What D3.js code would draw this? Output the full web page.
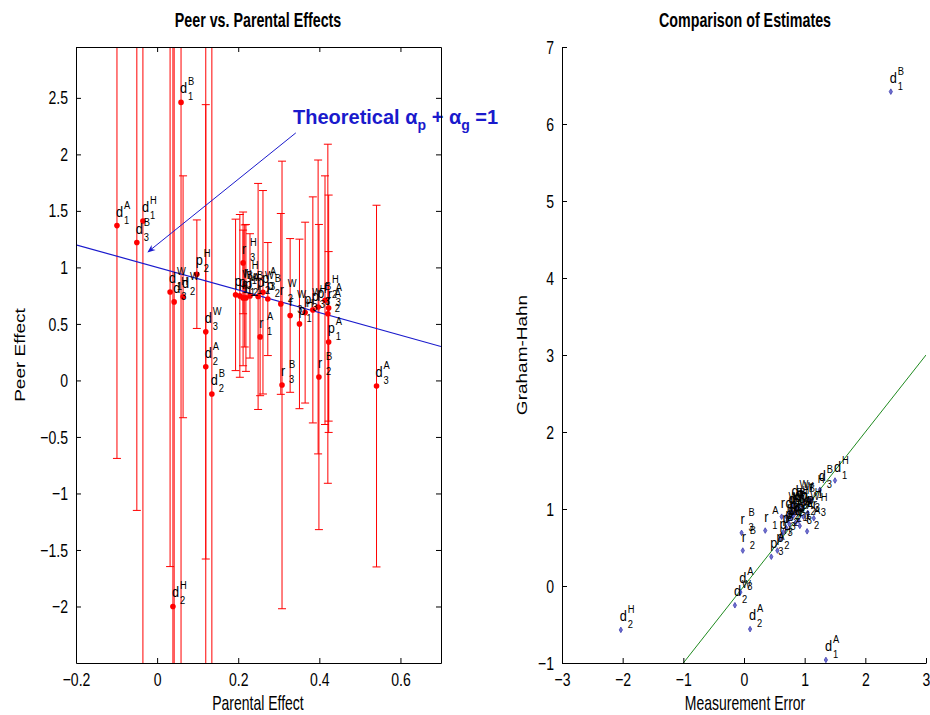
<!DOCTYPE html>
<html>
<head>
<meta charset="utf-8">
<script src="https://cdn.jsdelivr.net/npm/d3@7"></script>
<style>
  body { margin: 0; background: #fff; }
  svg { display: block; font-family: "Liberation Sans", Arial, Helvetica, sans-serif; }
</style>
</head>
<body>
<div id="chart"></div>
<script>
// estimate labels: letter, superscript, subscript
const estLetter = ['d','d','d','d','d','d','d','d','d','d','d','d',
                   'p','p','p','p','p','p','p','p','p','p','p','p',
                   'r','r','r','r','r','r','r','r','r','r','r','r'];
const estSup = ['A','A','A','B','B','B','H','H','H','W','W','W',
                'A','A','A','B','B','B','H','H','H','W','W','W',
                'A','A','A','B','B','B','H','H','H','W','W','W'];
const estSub = ['1','2','3','1','2','3','1','2','3','1','2','3',
                '1','2','3','1','2','3','1','2','3','1','2','3',
                '1','2','3','1','2','3','1','2','3','1','2','3'];

// left panel: parental effect, peer effect, error half-width
const parental = [-0.099, 0.12, 0.541, 0.059, 0.135, -0.05, -0.035, 0.039, 0.042, 0.032, 0.064, 0.12,
                  0.423, 0.219, 0.261, 0.204, 0.273, 0.397, 0.351, 0.098, 0.384, 0.1935, 0.249, 0.365,
                  0.254, 0.421, 0.423, 0.229, 0.399, 0.308, 0.216, 0.414, 0.212, 0.212, 0.305, 0.328];
const peer = [1.37, 0.12, -0.05, 2.46, -0.12, 1.22, 1.41, -2.0, 0.695, 0.783, 0.74, 0.43,
              0.34, 0.73, 0.78, 0.748, 0.72, 0.65, 0.5, 0.94, 0.624, 0.757, 0.743, 0.6,
              0.385, 0.59, 0.64, 0.748, 0.03, -0.04, 0.836, 0.71, 1.04, 0.73, 0.677, 0.575];
const peerErr = [2.06, 6, 1.6, 6, 6, 2.37, 6, 6, 6, 2.43, 1.07, 2.01,
                 0.8, 0.65, 0.9, 0.72, 0.5, 1.3, 0.75, 0.48, 1.0, 0.67, 1.0, 0.8,
                 0.52, 1.5, 1.0, 0.55, 1.35, 1.98, 0.54, 1.1, 0.45, 0.6, 0.8, 0.68];

// right panel: measurement error vs Graham-Hahn
const measErr = [1.35, 0.10, -0.06, 2.42, 0.75, 1.25, 1.5, -2.03, 0.85, 0.7, -0.15, 0.8,
                 0.9, 0.75, 0.45, 0.95, 0.7, 0.6, 0.82, 0.55, 1.05, 0.78, 0.88, 0.65,
                 0.35, 1.04, 0.92, 0.8, -0.02, -0.04, 1.1, 0.72, 1.15, 0.85, 0.98, 0.62];
const grahamHahn = [-0.96, -0.56, -0.08, 6.42, 0.95, 1.25, 1.37, -0.57, 0.98, 0.9, -0.25, 1.05,
                    0.85, 0.8, 0.38, 1.0, 0.75, 0.62, 0.92, 0.46, 0.95, 0.88, 1.02, 0.7,
                    0.72, 0.71, 0.78, 0.95, 0.46, 0.69, 1.12, 0.85, 0.88, 0.82, 0.9, 0.9];

const xTicksLeft = [-0.2, 0, 0.2, 0.4, 0.6];
const yTicksLeft = [-2, -1.5, -1, -0.5, 0, 0.5, 1, 1.5, 2, 2.5];
const xTicksRight = [-3, -2, -1, 0, 1, 2, 3];
const yTicksRight = [-1, 0, 1, 2, 3, 4, 5, 6, 7];

// theoretical line alpha_p + alpha_g = 1 and annotation arrow (data units)
const theoryX = [-0.2, 0.7];
const arrowFrom = [0.342, 2.19];
const arrowTo = [-0.0225, 1.137];
const noteAt = [0.335, 2.27];

const width = 930, height = 715;
const idx = d3.range(estLetter.length);

const svg = d3.select('#chart').append('svg')
  .attr('width', width)
  .attr('height', height)
  .style('background', '#fff');

// scales
const xL = d3.scaleLinear().domain([-0.2, 0.7]).range([76, 441]);
const yL = d3.scaleLinear().domain([-2.5, 2.95]).range([663, 47]);
const xR = d3.scaleLinear().domain([-3, 3]).range([562, 926]);
const yR = d3.scaleLinear().domain([-1, 7]).range([663, 47]);

const defs = svg.append('defs');
defs.append('clipPath').attr('id', 'clipL').append('rect')
  .attr('x', 76).attr('y', 47).attr('width', 365).attr('height', 616);
defs.append('clipPath').attr('id', 'clipR').append('rect')
  .attr('x', 562).attr('y', 47).attr('width', 364).attr('height', 616);
defs.append('marker')
  .attr('id', 'arrowhead')
  .attr('viewBox', '0 0 10 10')
  .attr('refX', 9).attr('refY', 5)
  .attr('markerWidth', 10).attr('markerHeight', 8)
  .attr('markerUnits', 'userSpaceOnUse')
  .attr('orient', 'auto')
  .append('path').attr('d', 'M0,1 L10,5 L0,9 L3,5 Z').attr('fill', '#1a1acc');

// narrow text helper: horizontal squeeze, keep anchor point
const narrowText = (sel, k) => sel.each(function() {
  const t = d3.select(this);
  t.attr('x', (+t.attr('x') || 0) / k).attr('transform', `scale(${k},1)`);
});

// d with super/subscript next to each point
const drawLabels = (g, xs, ys, xScale, yScale) => {
  const lab = g.selectAll('g.lab').data(idx).enter().append('g').attr('class', 'lab')
    .attr('transform', i => `translate(${xScale(xs[i])}, ${yScale(ys[i])})`)
    .attr('fill', '#000');
  lab.append('text').attr('x', -1).attr('y', -9).style('font-size', '15px').text(i => estLetter[i]).call(narrowText, 0.85);
  lab.append('text').attr('x', 7).attr('y', -17).style('font-size', '11px').text(i => estSup[i]).call(narrowText, 0.85);
  lab.append('text').attr('x', 7).attr('y', -2).style('font-size', '11px').text(i => estSub[i]).call(narrowText, 0.85);
};

// ---------------- left panel ----------------
const left = svg.append('g');
const plotL = left.append('g').attr('clip-path', 'url(#clipL)');

const bars = plotL.selectAll('g.bar').data(idx).enter().append('g').attr('class', 'bar')
  .attr('stroke', '#ff0000').attr('stroke-width', 1);
bars.append('line')
  .attr('x1', i => xL(parental[i])).attr('x2', i => xL(parental[i]))
  .attr('y1', i => yL(peer[i] + peerErr[i])).attr('y2', i => yL(peer[i] - peerErr[i]));
bars.append('line')
  .attr('x1', i => xL(parental[i]) - 4).attr('x2', i => xL(parental[i]) + 4)
  .attr('y1', i => yL(peer[i] + peerErr[i])).attr('y2', i => yL(peer[i] + peerErr[i]));
bars.append('line')
  .attr('x1', i => xL(parental[i]) - 4).attr('x2', i => xL(parental[i]) + 4)
  .attr('y1', i => yL(peer[i] - peerErr[i])).attr('y2', i => yL(peer[i] - peerErr[i]));

plotL.append('line')
  .attr('x1', xL(theoryX[0])).attr('y1', yL(1 - theoryX[0]))
  .attr('x2', xL(theoryX[1])).attr('y2', yL(1 - theoryX[1]))
  .attr('stroke', '#1a1acc').attr('stroke-width', 1.2);

plotL.selectAll('circle.pt').data(idx).enter().append('circle').attr('class', 'pt')
  .attr('cx', i => xL(parental[i])).attr('cy', i => yL(peer[i]))
  .attr('r', 2.8).attr('fill', '#ff0000');

drawLabels(plotL, parental, peer, xL, yL);

// annotation
left.append('line')
  .attr('x1', xL(arrowFrom[0])).attr('y1', yL(arrowFrom[1]))
  .attr('x2', xL(arrowTo[0])).attr('y2', yL(arrowTo[1]))
  .attr('stroke', '#1a1acc').attr('stroke-width', 1)
  .attr('marker-end', 'url(#arrowhead)');

const note = left.append('text')
  .attr('x', xL(noteAt[0])).attr('y', yL(noteAt[1]))
  .attr('fill', '#1a1acc')
  .style('font-size', '20px').style('font-weight', 'bold');
note.append('tspan').text('Theoretical \u03b1');
note.append('tspan').attr('dy', 6).style('font-size', '14px').text('p');
note.append('tspan').attr('dy', -6).text(' + \u03b1');
note.append('tspan').attr('dy', 6).style('font-size', '14px').text('g');
note.append('tspan').attr('dy', -6).text(' =1');

// axes (inward ticks, MATLAB style box)
const axisStyle = g => {
  g.selectAll('path.domain').attr('stroke', '#000');
  g.selectAll('.tick line').attr('stroke', '#000');
  g.selectAll('.tick text').style('font-size', '19px').attr('fill', '#000')
    .style('font-family', '"Liberation Sans", Arial, sans-serif')
    .call(narrowText, 0.74);
};
left.append('g').attr('transform', 'translate(0,663)')
  .call(d3.axisBottom(xL).tickValues(xTicksLeft).tickSize(-5).tickSizeOuter(0).tickPadding(10).tickFormat(d3.format('')))
  .call(axisStyle);
left.append('g').attr('transform', 'translate(0,47)')
  .call(d3.axisTop(xL).tickValues(xTicksLeft).tickSize(-5).tickSizeOuter(0).tickFormat(''))
  .call(axisStyle);
left.append('g').attr('transform', 'translate(76,0)')
  .call(d3.axisLeft(yL).tickValues(yTicksLeft).tickSize(-5).tickSizeOuter(0).tickPadding(8).tickFormat(d3.format('')))
  .call(axisStyle);
left.append('g').attr('transform', 'translate(441,0)')
  .call(d3.axisRight(yL).tickValues(yTicksLeft).tickSize(-5).tickSizeOuter(0).tickFormat(''))
  .call(axisStyle);

// titles and axis labels
const heading = (x, y, txt, size, bold, k) => svg.append('text')
  .attr('transform', `translate(${x},${y}) scale(${k},1)`)
  .attr('text-anchor', 'middle')
  .style('font-size', size + 'px').style('font-weight', bold ? 'bold' : 'normal')
  .text(txt);
const sideLabel = (x, y, txt) => svg.append('text')
  .attr('transform', `translate(${x},${y}) rotate(-90) scale(1,0.75)`)
  .attr('text-anchor', 'middle')
  .style('font-size', '19px')
  .text(txt);

heading(258, 27, 'Peer vs. Parental Effects', 21, true, 0.68);
heading(258, 710, 'Parental Effect', 20, false, 0.7);
sideLabel(25, 355, 'Peer Effect');

// ---------------- right panel ----------------
const right = svg.append('g');
const plotR = right.append('g').attr('clip-path', 'url(#clipR)');

plotR.append('line')
  .attr('x1', xR(-1)).attr('y1', yR(-1))
  .attr('x2', xR(3)).attr('y2', yR(3))
  .attr('stroke', '#1f8a1f').attr('stroke-width', 1);

plotR.selectAll('path.pt').data(idx).enter().append('path').attr('class', 'pt')
  .attr('transform', i => `translate(${xR(measErr[i])}, ${yR(grahamHahn[i])})`)
  .attr('d', d3.symbol(d3.symbolDiamond, 9))
  .attr('fill', '#7070d0').attr('stroke', '#4040b0').attr('stroke-width', 0.8);

drawLabels(right, measErr, grahamHahn, xR, yR);

right.append('g').attr('transform', 'translate(0,663)')
  .call(d3.axisBottom(xR).tickValues(xTicksRight).tickSize(-5).tickSizeOuter(0).tickPadding(10).tickFormat(d3.format('')))
  .call(axisStyle);
right.append('g').attr('transform', 'translate(562,0)')
  .call(d3.axisLeft(yR).tickValues(yTicksRight).tickSize(-5).tickSizeOuter(0).tickPadding(8).tickFormat(d3.format('')))
  .call(axisStyle);

heading(745, 27, 'Comparison of Estimates', 21, true, 0.68);
heading(745, 710, 'Measurement Error', 20, false, 0.7);
sideLabel(527, 355, 'Graham-Hahn');
</script>
</body>
</html>
